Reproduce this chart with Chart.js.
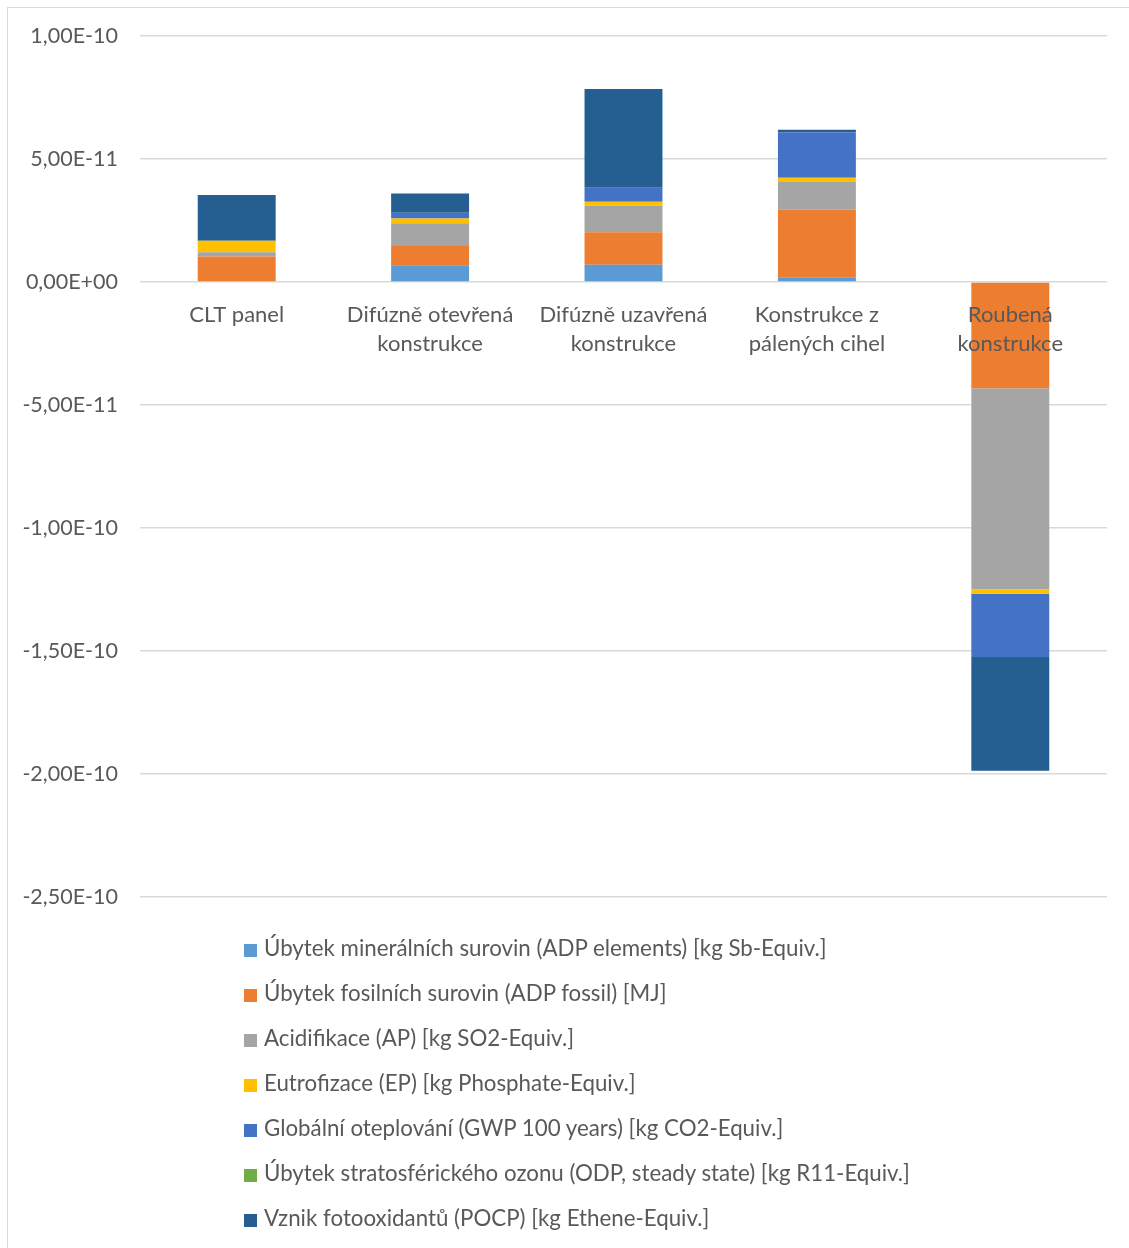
<!DOCTYPE html>
<html>
<head>
<meta charset="utf-8">
<script src="https://cdn.jsdelivr.net/npm/chart.js@4/dist/chart.umd.min.js"></script>
<style>
    body { margin: 0; background: #fff; font-family: Lato, sans-serif; }
    #frame {
        position: absolute; left: 7px; top: 7px;
        width: 1125px; height: 1250px;
        border: 1px solid #d9d9d9; box-sizing: border-box;
    }
    #chartBox { position: absolute; left: 0; top: -7px; width: 1120px; height: 931px; }
    #legend { position: absolute; left: 236px; top: 917px; }
    .item { height: 45px; line-height: 45px; font-size: 22.3px; color: #595959; white-space: nowrap; }
    .swatch { display: inline-block; width: 13px; height: 13px; margin-right: 7px; vertical-align: -1px; }
</style>
</head>
<body>
<div id="frame">
    <div id="chartBox"><canvas id="lcaChart"></canvas></div>
    <div id="legend"></div>
</div>
<script>
var categories = [
    'CLT panel',
    ['Difúzně otevřená', 'konstrukce'],
    ['Difúzně uzavřená', 'konstrukce'],
    ['Konstrukce z', 'pálených cihel'],
    ['Roubená', 'konstrukce']
];

// normalised impact values per construction
var adpElements = [0, 0.68e-11, 0.70e-11, 0.17e-11, 0];
var adpFossil   = [1.03e-11, 0.78e-11, 1.32e-11, 2.76e-11, -4.32e-11];
var acidification = [0.18e-11, 0.93e-11, 1.08e-11, 1.13e-11, -8.17e-11];
var eutrophication = [0.46e-11, 0.19e-11, 0.16e-11, 0.17e-11, -0.18e-11];
var gwp100 = [0, 0.23e-11, 0.57e-11, 1.85e-11, -2.57e-11];
var odp = [0, 0, 0, 0, 0];
var pocp = [1.86e-11, 0.79e-11, 4.01e-11, 0.11e-11, -4.63e-11];

var seriesNames = [
    'Úbytek minerálních surovin (ADP elements) [kg Sb-Equiv.]',
    'Úbytek fosilních surovin (ADP fossil) [MJ]',
    'Acidifikace (AP) [kg SO2-Equiv.]',
    'Eutrofizace (EP) [kg Phosphate-Equiv.]',
    'Globální oteplování (GWP 100 years) [kg CO2-Equiv.]',
    'Úbytek stratosférického ozonu (ODP, steady state) [kg R11-Equiv.]',
    'Vznik fotooxidantů (POCP) [kg Ethene-Equiv.]'
];
var seriesData = [adpElements, adpFossil, acidification, eutrophication, gwp100, odp, pocp];
var seriesColors = ['#5B9BD5', '#ED7D31', '#A5A5A5', '#FFC000', '#4472C4', '#70AD47', '#255E91'];

function FormatSci(v) {
    if (Math.abs(v) < 1e-15) {
        v = 0;
    }
    var parts = v.toExponential(2).split('e');
    var exp = parts[1];
    var sign = exp[0];
    var digits = exp.slice(1).padStart(2, '0');
    return parts[0].replace('.', ',') + 'E' + sign + digits;
}

var datasets = [];
for (var i = 0; i < seriesNames.length; i++) {
    datasets.push({
        label: seriesNames[i],
        data: seriesData[i],
        backgroundColor: seriesColors[i],
        borderWidth: 0,
        categoryPercentage: 1,
        barPercentage: 0.403
    });
}

Chart.defaults.font.family = 'Lato, sans-serif';
Chart.defaults.color = '#595959';

var ctx = document.getElementById('lcaChart');
var lcaChart = new Chart(ctx, {
    type: 'bar',
    data: { labels: categories, datasets: datasets },
    options: {
        responsive: true,
        maintainAspectRatio: false,
        animation: false,
        layout: { padding: { top: 21, bottom: 16, right: 21, left: 0 } },
        plugins: {
            legend: { display: false },
            tooltip: { enabled: false }
        },
        scales: {
            x: {
                stacked: true,
                position: { y: 0 },
                grid: { display: false, drawTicks: false },
                border: { display: false },
                ticks: { z: 1, font: { size: 22, lineHeight: 1.32 }, padding: 18, color: '#595959' }
            },
            y: {
                stacked: true,
                min: -2.5e-10,
                max: 1e-10,
                afterFit: function (scale) { scale.width = 132; },
                grid: { color: '#d9d9d9', lineWidth: 1.5, drawTicks: false },
                border: { display: false },
                ticks: {
                    stepSize: 5e-11,
                    padding: 22,
                    font: { size: 21.5 },
                    color: '#595959',
                    callback: function (value) { return FormatSci(value); }
                }
            }
        }
    }
});

// legend, one entry per line
var legendBox = document.getElementById('legend');
for (var item of lcaChart.options.plugins.legend.labels.generateLabels(lcaChart)) {
    var row = document.createElement('div');
    row.className = 'item';
    var sw = document.createElement('span');
    sw.className = 'swatch';
    sw.style.background = item.fillStyle;
    row.appendChild(sw);
    row.appendChild(document.createTextNode(item.text));
    legendBox.appendChild(row);
}
</script>
</body>
</html>
